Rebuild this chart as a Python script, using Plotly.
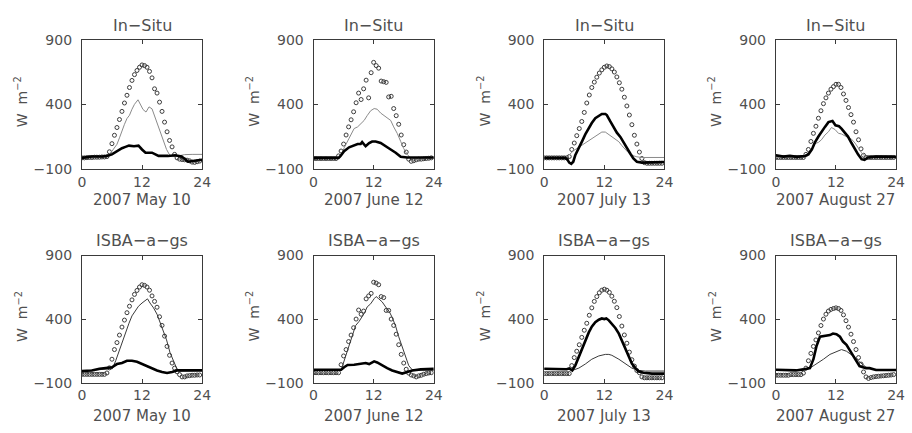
import plotly.graph_objects as go

# ---------------- data (W m-2) ----------------
half_hours = [i * 0.5 for i in range(48)]

dates = ["2007 May 10", "2007 June 12", "2007 July 13", "2007 August 27"]
row_titles = ["In\u2212Situ", "ISBA\u2212a\u2212gs"]
x_tick_vals = [0, 12, 24]
x_tick_text = ["0", "12", "24"]
y_tick_vals = [-100, 400, 900]
y_tick_text = ["\u2212100", "400", "900"]

# In-Situ, May 10
insitu_may_circ = [-15, -15, -13, -12, -12, -10, -10, -10, -8, -8, -5,
                   32, 95, 160, 220, 282, 345, 410, 470, 530, 585, 630, 662, 687, 705, 700,
                   687, 655, 605, 520, 487, 417, 345, 262, 187, 120, 70, 12, -15, -25, -28,
                   -30, -33, -38, -48, -50, -45, -40]
insitu_may_thin_h = [0, 2, 4, 5, 5.5, 6, 6.5, 7, 7.5, 8, 8.5, 9, 9.5, 10, 10.5, 11.2, 11.7, 12.2,
                     12.8, 13.4, 14, 14.6, 15.3, 15.9, 16.4, 16.9, 17.4, 17.9, 18.6, 19.5, 20.5, 22, 24]
insitu_may_thin_v = [-18, -12, -6, 0, 10, 40, 65, 90, 140, 200, 245, 290, 315, 362, 400, 435, 400, 360,
                     340, 380, 365, 300, 230, 150, 95, 50, 15, -5, -5, 2, 10, 12, 12]
insitu_may_thick_h = [0, 2, 4, 5, 6, 7, 8, 8.7, 9.4, 10.4, 11.3, 12, 12.7, 14, 15.3, 17.2, 18.6,
                      19.9, 20.6, 21.2, 22.5, 23.8, 24]
insitu_may_thick_v = [-15, -5, -5, 0, 12, 37, 60, 70, 80, 75, 80, 50, 25, 25, 0, 0, 5,
                      -5, -25, -45, -37, -32, -30]

# In-Situ, June 12
insitu_jun_circ = [-20] * 10 + [0, 38, 92, 162, 225, 280, 342, 412, 487, 437, 520, 587, 450, 645,
                                725, 700, 680, 580, 575, 570, 457, 462, 367, 312, 245, 162, 87, 30,
                                -25, -42, -37, -30, -25, -25, -22, -20, -18, -15]
insitu_jun_thin_h = [0, 5, 5.5, 6.1, 7.1, 8.1, 8.8, 9.4, 10.1, 10.7, 11.4, 12.1, 12.7, 13.4, 14.1,
                     14.7, 15.4, 16, 16.7, 17.4, 18, 18.7, 19.4, 24]
insitu_jun_thin_v = [-12, -10, 0, 62, 137, 212, 225, 250, 275, 312, 350, 367, 362, 332, 312,
                     300, 275, 225, 175, 112, 57, 12, -17, -15]
insitu_jun_thick_h = [0, 5, 5.4, 6.1, 7.1, 8.1, 8.8, 9.4, 9.7, 10.4, 11.1, 11.7, 12.4, 13.4, 14.3,
                      15.4, 16.4, 17.4, 18.7, 20, 24]
insitu_jun_thick_v = [-15, -15, 0, 37, 67, 82, 92, 92, 107, 75, 100, 112, 112, 100, 75,
                      50, 25, -7, -12, -12, -12]

# In-Situ, July 13
insitu_jul_circ = [-15] * 9 + [-15, -5, 50, 100, 157, 212, 267, 337, 410, 472, 530, 572, 610, 642,
                               667, 687, 697, 692, 675, 650, 612, 567, 517, 455, 387, 317, 242, 160,
                               92, 30, -20, -52, -57, -57, -57, -57, -57, -57, -57]
insitu_jul_thin_h = [0, 4.5, 4.9, 5.9, 6.9, 7.9, 8.9, 9.9, 10.9, 11.5, 12.2, 12.9, 13.5, 14.2, 14.9,
                     15.5, 16.2, 16.8, 17.5, 18.5, 19.5, 24]
insitu_jul_thin_v = [-15, -15, 5, 42, 67, 92, 122, 147, 172, 185, 185, 167, 150, 130, 110,
                     80, 50, 25, 5, -7, -12, -12]
insitu_jul_thick_h = [0, 4.2, 4.6, 5.0, 5.4, 5.8, 6.2, 6.9, 7.6, 8.2, 8.9, 9.5, 10.2, 10.9, 11.5,
                      12.2, 12.5, 13.2, 13.9, 14.5, 15.2, 15.8, 16.5, 17.2, 17.8, 18.5, 19.5, 21.5, 24]
insitu_jul_thick_v = [-15, -15, -27, -52, -62, -45, 5, 67, 117, 167, 217, 255, 292, 312, 325,
                      325, 317, 267, 217, 180, 147, 105, 62, 17, -20, -45, -52, -52, -47]

# In-Situ, August 27
insitu_aug_circ = [-12] * 12 + [12, 50, 112, 175, 230, 292, 350, 405, 450, 487, 517, 537, 555, 555,
                                530, 480, 430, 375, 320, 262, 187, 125, 55, 5, -12] + [-12] * 11
insitu_aug_thin_h = [0, 6, 6.5, 7.2, 7.8, 8.5, 9.1, 9.8, 10.5, 11.1, 11.8, 12.5, 13.1, 13.8, 14.4,
                     15.1, 15.8, 16.4, 17.1, 17.7, 18.7, 24]
insitu_aug_thin_v = [-12, -12, 12, 62, 95, 105, 125, 162, 187, 220, 205, 175, 170, 155, 145,
                     130, 100, 62, 25, 0, -12, -12]
insitu_aug_thick_h = [0, 1.5, 2.8, 4.2, 5.8, 6.5, 7.2, 7.8, 8.5, 9.1, 9.8, 10.5, 11.3, 11.9, 12.6,
                      13.1, 13.8, 14.4, 15.1, 15.8, 16.4, 17.1, 17.7, 18.4, 20, 24]
insitu_aug_thick_v = [5, -5, 0, -7, 0, 12, 50, 105, 150, 187, 225, 262, 270, 237, 230,
                      212, 180, 150, 100, 50, 12, -25, -30, -12, -5, -7]

# ISBA-a-gs, May 10
isba_may_circ = [-35] * 10 + [-24, 16, 84, 160, 215, 274, 337, 392, 450, 501, 551, 594, 625, 652,
                              670, 665, 652, 627, 582, 539, 493, 418, 350, 266, 185, 115, 54, 14,
                              -15, -37, -55, -55, -47, -45, -42, -42, -40, -40]
isba_may_thin_h = [0, 4, 6.1, 6.75, 7.4, 8.1, 8.7, 9.4, 10, 10.7, 11.3, 12, 12.7, 13.1, 13.6, 14.3,
                   15, 15.6, 16.3, 16.9, 17.6, 18.2, 18.9, 19.5, 24]
isba_may_thin_v = [-9, 0, 10, 72, 147, 223, 299, 367, 425, 463, 501, 526, 551, 559, 526, 488,
                   438, 375, 299, 236, 135, 72, 14, -9, -4]
isba_may_thick_h = [0, 2, 3.5, 5, 6, 7, 8, 9, 10, 11, 12, 13, 14, 15, 16, 17, 18, 19, 24]
isba_may_thick_v = [-9, -4, 9, 14, 21, 46, 54, 72, 72, 64, 46, 34, 14, -4, -16, -24, -16, -4, -4]

# ISBA-a-gs, June 12
isba_jun_circ = [-22] * 11 + [41, 110, 160, 223, 274, 332, 400, 471, 438, 463, 559, 582, 602, 690,
                              683, 670, 577, 569, 468, 468, 400, 350, 281, 198, 122, 54, 5, -25,
                              -40, -47, -55, -47, -42, -34, -29, -24, -22]
isba_jun_thin_h = [0, 5.5, 5.8, 6.4, 7.1, 7.8, 8.4, 9.1, 9.7, 10.2, 10.7, 11.4, 12.1, 12.5, 13,
                   13.7, 14.4, 15.1, 15.7, 16.4, 17, 17.7, 18.4, 19, 19.7, 24]
isba_jun_thin_v = [-4, -4, 34, 110, 198, 286, 349, 382, 418, 450, 495, 520, 560, 577, 560,
                   535, 495, 460, 413, 342, 261, 185, 97, 34, 1, -4]
isba_jun_thick_h = [0, 5.5, 6.1, 6.8, 8.1, 9.4, 10.4, 11.1, 12.1, 12.7, 13.7, 14.7, 15.7, 16.7,
                    17.7, 18.7, 19.7, 21.4, 24]
isba_jun_thick_v = [1, 1, 21, 39, 41, 46, 54, 46, 67, 59, 34, 14, -4, -16, -29, -16, -4, 4, 9]

# ISBA-a-gs, July 13
isba_jul_circ = [-29] * 11 + [34, 97, 147, 198, 256, 312, 367, 430, 488, 539, 577, 607, 627, 635,
                              627, 610, 580, 540, 490, 420, 345, 275, 210, 140, 80, 30, -5, -22,
                              -55, -62, -62, -62, -62, -62, -62, -62, -62]
isba_jul_thin_h = [0, 5, 5.6, 6.9, 8.2, 9.5, 10.9, 12.2, 12.9, 13.5, 14.9, 16.2, 17.5, 18.8, 20.2, 24]
isba_jul_thin_v = [9, 9, -4, 14, 46, 84, 110, 122, 122, 115, 84, 46, 14, -4, -9, -9]
isba_jul_thick_h = [0, 3, 4.5, 5, 5.6, 6.2, 6.9, 7.6, 8.2, 8.9, 9.5, 10.2, 10.9, 11.5, 12, 12.4,
                    12.9, 13.5, 14.2, 14.9, 15.5, 16.2, 16.8, 17.5, 18.2, 18.8, 19.8, 21.5, 24]
isba_jul_thick_v = [9, 9, 5, 12, -4, 34, 100, 170, 235, 295, 340, 375, 395, 405, 400, 405,
                    390, 365, 330, 285, 230, 165, 100, 50, 14, -11, -22, -29, -29]

# ISBA-a-gs, August 27
isba_aug_circ = [-42, -42, -42, -42, -42, -42, -37, -37, -37, -37, -37, -25,
                 14, 72, 130, 185, 236, 291, 349, 400, 438, 463, 476, 483, 488, 483, 468, 433,
                 387, 337, 281, 223, 160, 97, 46, -16, -55, -67, -60, -55, -52, -50, -48, -46,
                 -44, -42, -40, -37]
isba_aug_thin_h = [0, 6, 6.8, 8.1, 9.5, 10.8, 12.1, 13.1, 14.1, 15.4, 16.7, 18, 19.4, 21.4, 24]
isba_aug_thin_v = [1, 1, 14, 46, 84, 122, 147, 160, 147, 110, 64, 21, 4, 1, 1]
isba_aug_thick_h = [0, 4, 5.5, 6.8, 7.5, 8.1, 8.8, 9.5, 10.1, 10.8, 11.4, 12.1, 12.8, 13.4, 14.1,
                    14.7, 15.4, 16.1, 16.7, 17.4, 18, 18.7, 19.4, 20, 24]
isba_aug_thick_v = [1, -4, 4, 14, 84, 185, 261, 266, 266, 274, 286, 281, 261, 223, 198,
                    160, 110, 64, 29, 21, 14, 14, 9, -1, -1]

panels = [
    (insitu_may_circ, insitu_may_thin_h, insitu_may_thin_v, insitu_may_thick_h, insitu_may_thick_v),
    (insitu_jun_circ, insitu_jun_thin_h, insitu_jun_thin_v, insitu_jun_thick_h, insitu_jun_thick_v),
    (insitu_jul_circ, insitu_jul_thin_h, insitu_jul_thin_v, insitu_jul_thick_h, insitu_jul_thick_v),
    (insitu_aug_circ, insitu_aug_thin_h, insitu_aug_thin_v, insitu_aug_thick_h, insitu_aug_thick_v),
    (isba_may_circ, isba_may_thin_h, isba_may_thin_v, isba_may_thick_h, isba_may_thick_v),
    (isba_jun_circ, isba_jun_thin_h, isba_jun_thin_v, isba_jun_thick_h, isba_jun_thick_v),
    (isba_jul_circ, isba_jul_thin_h, isba_jul_thin_v, isba_jul_thick_h, isba_jul_thick_v),
    (isba_aug_circ, isba_aug_thin_h, isba_aug_thin_v, isba_aug_thick_h, isba_aug_thick_v),
]

# ---------------- layout geometry (pixels) ----------------
W, H = 912, 433
col_left = [79, 314, 548, 783]
panel_w = 122
row_top = [33, 257]
row_h = [134, 132]
title_y = [18, 241]
xtitle_y = [199, 424]

FONT = "DejaVu Sans"
TXT = "#505050"
AX = "#3a3a3a"
thin_colors = ["#8a8a8a", "#3a3a3a"]

fig = go.Figure()
annotations = []
layout_axes = {}

for i, (circ, th_h, th_v, tk_h, tk_v) in enumerate(panels):
    r, c = divmod(i, 4)
    n = i + 1
    xa = "x" if n == 1 else f"x{n}"
    ya = "y" if n == 1 else f"y{n}"
    L = col_left[c]
    T = row_top[r]
    Hh = row_h[r]

    fig.add_trace(go.Scatter(x=half_hours, y=circ, mode="markers", xaxis=xa, yaxis=ya,
                             marker=dict(symbol="circle-open", size=4, color="#3c3c3c",
                                         line=dict(width=1, color="#3c3c3c")),
                             showlegend=False, hoverinfo="skip"))
    fig.add_trace(go.Scatter(x=th_h, y=th_v, mode="lines", xaxis=xa, yaxis=ya,
                             line=dict(color=thin_colors[r], width=1),
                             showlegend=False, hoverinfo="skip"))
    fig.add_trace(go.Scatter(x=tk_h, y=tk_v, mode="lines", xaxis=xa, yaxis=ya,
                             line=dict(color="#000000", width=2.6),
                             showlegend=False, hoverinfo="skip"))

    common = dict(showline=True, linecolor=AX, linewidth=1, mirror="ticks",
                  ticks="inside", ticklen=4, tickcolor=AX, tickwidth=1,
                  showgrid=False, zeroline=False,
                  tickfont=dict(family=FONT, size=14, color=TXT))
    layout_axes["xaxis" if n == 1 else f"xaxis{n}"] = dict(
        domain=[L / W, (L + panel_w) / W], range=[0, 24], anchor=ya,
        tickvals=x_tick_vals, ticktext=x_tick_text, ticklabelstandoff=0, **common)
    layout_axes["yaxis" if n == 1 else f"yaxis{n}"] = dict(
        domain=[(H - (T + Hh)) / H, (H - T) / H], range=[-100, 900], anchor=xa,
        tickvals=y_tick_vals, ticktext=y_tick_text, ticklabelstandoff=6, **common)

    cx = (L + panel_w / 2) / W
    annotations.append(dict(text=row_titles[r], x=cx, y=(H - title_y[r]) / H,
                            xref="paper", yref="paper", xanchor="center", yanchor="middle",
                            showarrow=False, font=dict(family=FONT, size=16, color=TXT)))
    annotations.append(dict(text=dates[c], x=cx, y=(H - xtitle_y[r]) / H,
                            xref="paper", yref="paper", xanchor="center", yanchor="middle",
                            showarrow=False, font=dict(family=FONT, size=15, color=TXT)))
    annotations.append(dict(text="W  m<sup>\u22122</sup>", x=(L - 61) / W,
                            y=(H - (T + Hh / 2 - 3)) / H,
                            xref="paper", yref="paper", xanchor="center", yanchor="middle",
                            textangle=-90, showarrow=False,
                            font=dict(family=FONT, size=14, color=TXT)))

fig.update_layout(width=W, height=H, margin=dict(l=0, r=0, t=0, b=0),
                  paper_bgcolor="white", plot_bgcolor="white",
                  annotations=annotations, **layout_axes)

fig.write_html("out.html")
